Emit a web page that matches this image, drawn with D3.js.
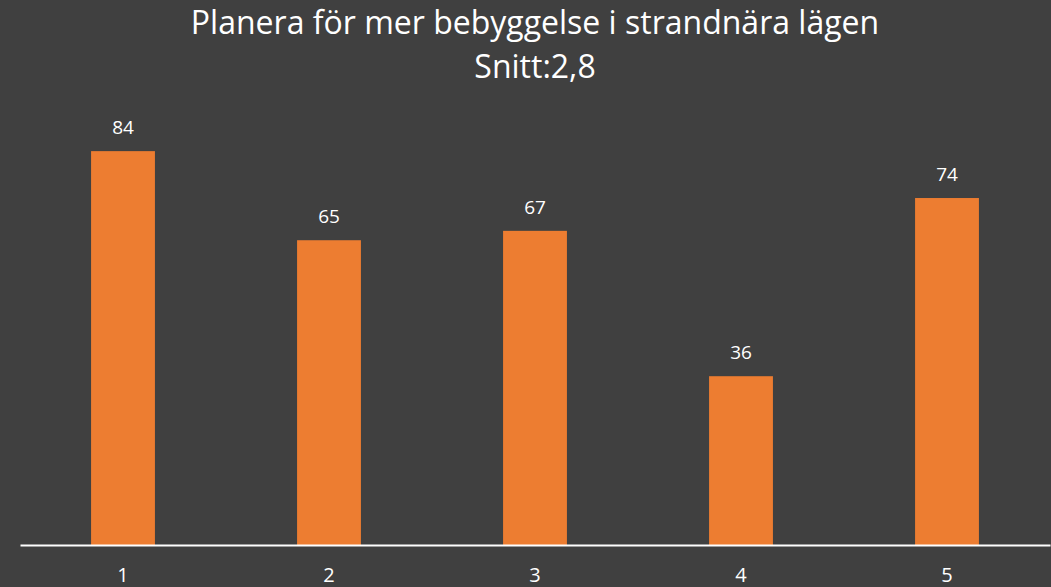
<!DOCTYPE html>
<html lang="sv">
<head>
	<meta charset="UTF-8">
	<title>Planera för mer bebyggelse</title>
	<style>
		body { margin: 0; background: #404040; }
		text { font-family: "Open Sans", sans-serif; fill: #ffffff; }
	</style>
</head>
<body>
	<script src="https://d3js.org/d3.v7.min.js"></script>
	<script type="text/javascript">
		var width = 1051;
		var height = 587;

		var categories = ["1", "2", "3", "4", "5"];
		var values = [84, 65, 67, 36, 74];
		var title = "Planera för mer bebyggelse i strandnära lägen";
		var subtitle = "Snitt:2,8";

		var svg = d3.select("body").append("svg").attr("width", width).attr("height", height);
		var padding = {left: 20, right: 1, top: 123, bottom: 42};
		var baseY = height - padding.bottom;

		svg.append("rect").attr("width", width).attr("height", height).attr("fill", "#404040");

		var XScale = d3.scaleBand().domain(categories)
			.range([padding.left, width - padding.right])
			.paddingInner(0.69).paddingOuter(0.345);
		var YScale = d3.scaleLinear().domain([0, 90]).range([baseY, padding.top]);

		// 标题
		svg.append("text").attr("x", 535).attr("y", 34)
			.attr("text-anchor", "middle").attr("font-size", 32).text(title);
		svg.append("text").attr("x", 535).attr("y", 78)
			.attr("text-anchor", "middle").attr("font-size", 32).text(subtitle);

		svg.selectAll("rect.bar")
			.data(values)
			.enter()
			.append("rect")
			.attr("class", "bar")
			.attr("x", function(d, i) { return XScale(categories[i]); })
			.attr("y", function(d) { return YScale(d); })
			.attr("width", XScale.bandwidth())
			.attr("height", function(d) { return baseY - YScale(d); })
			.attr("fill", "#ED7D31");

		svg.selectAll("text.val")
			.data(values)
			.enter()
			.append("text")
			.attr("class", "val")
			.attr("x", function(d, i) { return XScale(categories[i]) + XScale.bandwidth() / 2; })
			.attr("y", function(d) { return YScale(d) - 17; })
			.attr("text-anchor", "middle")
			.attr("font-size", 19)
			.text(function(d) { return d; });

		//添加x轴
		var XAxis = d3.axisBottom(XScale).tickSize(0).tickPadding(0);
		var gx = svg.append("g")
			.attr("transform", "translate(0," + baseY + ")")
			.call(XAxis);
		gx.select(".domain").attr("stroke", "#ffffff").attr("stroke-width", 2);
		gx.selectAll(".tick text").attr("dy", null).attr("y", 37)
			.attr("font-size", 20).attr("fill", "#ffffff")
			.style("font-family", "'Open Sans', sans-serif");
	</script>
</body>
</html>
